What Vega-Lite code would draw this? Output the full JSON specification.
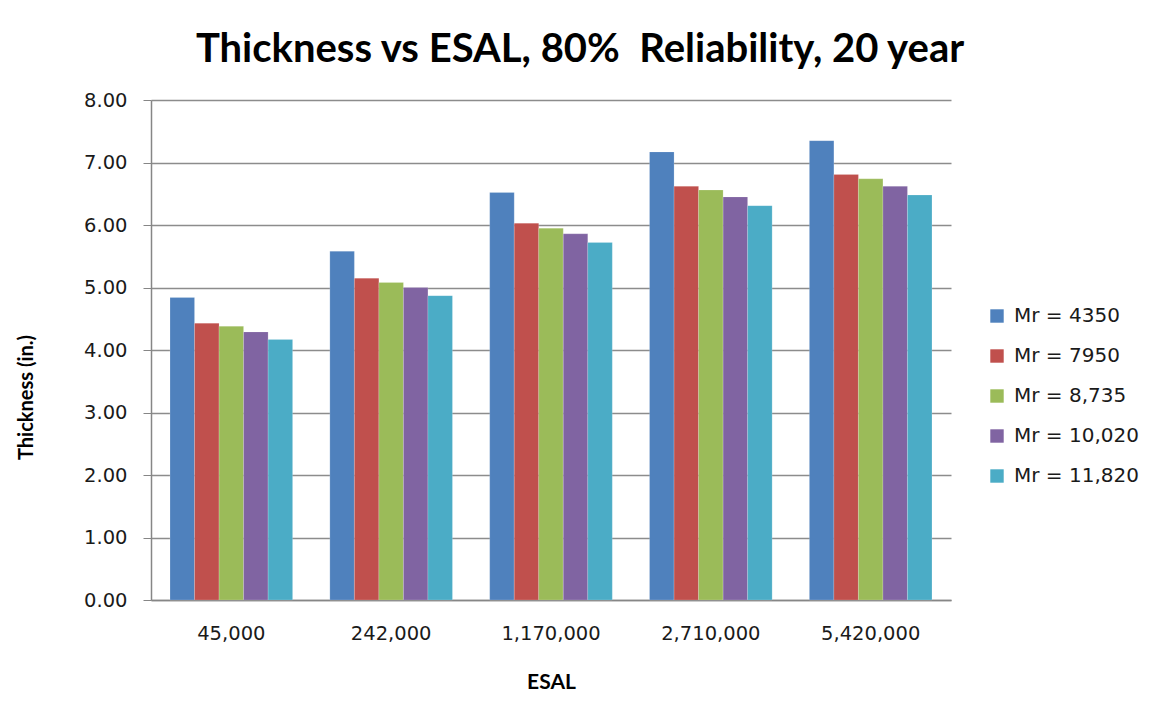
{
  "$schema": "https://vega.github.io/schema/vega-lite/v6.json",
  "autosize": "none",
  "width": 800,
  "height": 500,
  "padding": {"left": 151, "top": 100, "right": 202, "bottom": 119},
  "background": "white",
  "title": {
    "text": "Thickness vs ESAL, 80%\u00a0 Reliability, 20 year",
    "font": "Lato",
    "fontSize": 40,
    "fontWeight": "bold",
    "color": "#000000",
    "anchor": "middle",
    "dx": 29,
    "offset": 20
  },
  "data": {
    "values": [
      {"ESAL": "45,000", "Mr": "Mr = 4350", "Thickness": 4.84},
      {"ESAL": "45,000", "Mr": "Mr = 7950", "Thickness": 4.43},
      {"ESAL": "45,000", "Mr": "Mr = 8,735", "Thickness": 4.38},
      {"ESAL": "45,000", "Mr": "Mr = 10,020", "Thickness": 4.29},
      {"ESAL": "45,000", "Mr": "Mr = 11,820", "Thickness": 4.17},
      {"ESAL": "242,000", "Mr": "Mr = 4350", "Thickness": 5.58},
      {"ESAL": "242,000", "Mr": "Mr = 7950", "Thickness": 5.15},
      {"ESAL": "242,000", "Mr": "Mr = 8,735", "Thickness": 5.08},
      {"ESAL": "242,000", "Mr": "Mr = 10,020", "Thickness": 5.0},
      {"ESAL": "242,000", "Mr": "Mr = 11,820", "Thickness": 4.87},
      {"ESAL": "1,170,000", "Mr": "Mr = 4350", "Thickness": 6.52},
      {"ESAL": "1,170,000", "Mr": "Mr = 7950", "Thickness": 6.03},
      {"ESAL": "1,170,000", "Mr": "Mr = 8,735", "Thickness": 5.95},
      {"ESAL": "1,170,000", "Mr": "Mr = 10,020", "Thickness": 5.86},
      {"ESAL": "1,170,000", "Mr": "Mr = 11,820", "Thickness": 5.72},
      {"ESAL": "2,710,000", "Mr": "Mr = 4350", "Thickness": 7.17},
      {"ESAL": "2,710,000", "Mr": "Mr = 7950", "Thickness": 6.62},
      {"ESAL": "2,710,000", "Mr": "Mr = 8,735", "Thickness": 6.56},
      {"ESAL": "2,710,000", "Mr": "Mr = 10,020", "Thickness": 6.45},
      {"ESAL": "2,710,000", "Mr": "Mr = 11,820", "Thickness": 6.31},
      {"ESAL": "5,420,000", "Mr": "Mr = 4350", "Thickness": 7.35},
      {"ESAL": "5,420,000", "Mr": "Mr = 7950", "Thickness": 6.81},
      {"ESAL": "5,420,000", "Mr": "Mr = 8,735", "Thickness": 6.74},
      {"ESAL": "5,420,000", "Mr": "Mr = 10,020", "Thickness": 6.62},
      {"ESAL": "5,420,000", "Mr": "Mr = 11,820", "Thickness": 6.48}
    ]
  },
  "mark": {"type": "bar", "stroke": "#ffffff", "strokeOpacity": 0.35, "strokeWidth": 0.5},
  "encoding": {
    "x": {
      "field": "ESAL",
      "type": "nominal",
      "sort": ["45,000", "242,000", "1,170,000", "2,710,000", "5,420,000"],
      "scale": {"paddingInner": 0.233, "paddingOuter": 0.119},
      "axis": {
        "title": "ESAL",
        "titleFont": "Lato",
        "titleFontSize": 21,
        "titleFontWeight": "bold",
        "titleColor": "#000000",
        "titlePadding": 29,
        "labelFont": "DejaVu Sans",
        "labelFontSize": 19.5,
        "labelColor": "#1a1a1a",
        "labelPadding": 24,
        "labelAngle": 0,
        "ticks": false,
        "domainColor": "#868686",
        "domainWidth": 1.5
      }
    },
    "xOffset": {
      "field": "Mr",
      "type": "nominal",
      "sort": ["Mr = 4350", "Mr = 7950", "Mr = 8,735", "Mr = 10,020", "Mr = 11,820"],
      "scale": {"paddingInner": 0, "paddingOuter": 0}
    },
    "y": {
      "field": "Thickness",
      "type": "quantitative",
      "scale": {"domain": [0, 8], "nice": false},
      "axis": {
        "title": "Thickness (in.)",
        "titleFont": "Lato",
        "titleFontSize": 20,
        "titleFontWeight": "bold",
        "titleColor": "#000000",
        "titleX": -125,
        "titleY": 297,
        "titleAngle": -90,
        "titleAlign": "center",
        "titleBaseline": "middle",
        "values": [0, 1, 2, 3, 4, 5, 6, 7, 8],
        "format": ".2f",
        "labelFont": "DejaVu Sans",
        "labelFontSize": 19.5,
        "labelColor": "#1a1a1a",
        "labelPadding": 16,
        "tickSize": 8,
        "tickColor": "#868686",
        "domainColor": "#868686",
        "domainWidth": 1.5,
        "grid": true,
        "gridColor": "#8c8c8c",
        "gridWidth": 1.5
      }
    },
    "color": {
      "field": "Mr",
      "type": "nominal",
      "sort": ["Mr = 4350", "Mr = 7950", "Mr = 8,735", "Mr = 10,020", "Mr = 11,820"],
      "scale": {
        "domain": ["Mr = 4350", "Mr = 7950", "Mr = 8,735", "Mr = 10,020", "Mr = 11,820"],
        "range": ["#4F81BD", "#C0504D", "#9BBB59", "#8064A2", "#4BACC6"]
      },
      "legend": {
        "title": null,
        "orient": "none",
        "legendX": 836,
        "legendY": 206,
        "symbolType": "square",
        "symbolSize": 180,
        "symbolStrokeWidth": 0,
        "labelFont": "DejaVu Sans",
        "labelFontSize": 20,
        "labelColor": "#1a1a1a",
        "labelOffset": 7,
        "rowPadding": 20
      }
    }
  },
  "config": {
    "view": {"stroke": null}
  }
}
